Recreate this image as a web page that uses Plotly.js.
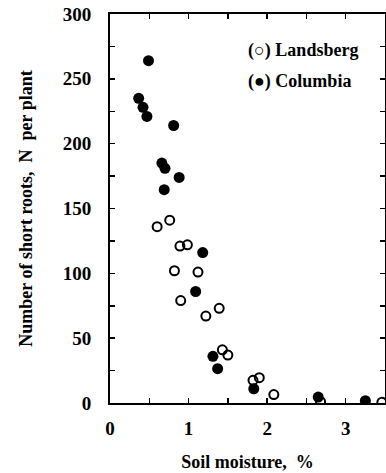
<!DOCTYPE html>
<html><head><meta charset="utf-8">
<script src="https://cdn.plot.ly/plotly-3.0.1.min.js"></script>
<style>html,body{margin:0;padding:0;background:#fff}#c{width:386px;height:473px}</style>
</head><body><div id="c"></div>
<script>
const landsbergX = [0.60, 0.76, 0.89, 0.985, 0.82, 1.12, 0.90, 1.39, 1.22, 1.43, 1.50, 1.82, 1.90, 2.085, 2.68, 3.46];
const landsbergY = [136, 141, 121, 122, 102, 101, 79, 73, 67, 41, 37, 17.5, 19.5, 6.5, 1.0, 0.5];
const columbiaX = [0.49, 0.365, 0.42, 0.47, 0.81, 0.66, 0.70, 0.88, 0.69, 1.18, 1.09, 1.31, 1.37, 1.83, 2.65, 3.25];
const columbiaY = [264, 235, 228, 221, 214, 185, 181, 174, 164.5, 116, 86, 36, 26.5, 11, 4.6, 1.8];
const xTickVals = [0, 0.5, 1, 1.5, 2, 2.5, 3, 3.5];
const xTickText = ['0', '', '1', '', '2', '', '3', ''];
const yTickVals = [0, 25, 50, 75, 100, 125, 150, 175, 200, 225, 250, 275, 300];
const yTickText = ['0', '', '50', '', '100', '', '150', '', '200', '', '250', '', '300'];
const legendNames = ['Landsberg', 'Columbia'];

const font = {family: '"Liberation Serif", "DejaVu Serif", serif', color: '#000'};
const traces = [
  {x: landsbergX, y: landsbergY, mode: 'markers', type: 'scatter', name: legendNames[0],
   marker: {symbol: 'circle-open', size: 9, color: '#000', line: {width: 2, color: '#000'}}},
  {x: columbiaX, y: columbiaY, mode: 'markers', type: 'scatter', name: legendNames[1],
   marker: {symbol: 'circle', size: 11, color: '#000'}}
];
const axisCommon = {showline: true, linewidth: 2, linecolor: '#000', mirror: 'ticks', ticks: 'inside',
  ticklen: 5, tickwidth: 1.5, tickcolor: '#000', showgrid: false, zeroline: false,
  tickfont: Object.assign({size: 19, weight: 'bold'}, font)};
const layout = {
  width: 386, height: 473, margin: {l: 110, r: 1, t: 14, b: 70},
  paper_bgcolor: '#fff', plot_bgcolor: '#fff', showlegend: false,
  xaxis: Object.assign({}, axisCommon, {range: [0, 3.5], tickmode: 'array', tickvals: xTickVals, ticktext: xTickText,
    ticklabelstandoff: 7,
    title: {text: 'Soil moisture,&nbsp;&nbsp;%', font: Object.assign({size: 18, weight: 'bold'}, font), standoff: 18}}),
  yaxis: Object.assign({}, axisCommon, {range: [0, 300], tickmode: 'array', tickvals: yTickVals, ticktext: yTickText,
    ticklabelstandoff: 13,
    title: {text: 'Number of short roots,&nbsp;&nbsp;N&nbsp;&nbsp;per plant', font: Object.assign({size: 18, weight: 'bold'}, font), standoff: 25}}),
  annotations: [
    {xref: 'paper', yref: 'paper', x: 0.495, y: 0.907, xanchor: 'left', yanchor: 'middle', showarrow: false,
     text: '<b>(○) ' + legendNames[0] + '</b>', font: Object.assign({size: 18}, font)},
    {xref: 'paper', yref: 'paper', x: 0.495, y: 0.827, xanchor: 'left', yanchor: 'middle', showarrow: false,
     text: '<b>(●) ' + legendNames[1] + '</b>', font: Object.assign({size: 18}, font)}
  ]
};
Plotly.newPlot('c', traces, layout, {displayModeBar: false, staticPlot: true});
</script></body></html>
